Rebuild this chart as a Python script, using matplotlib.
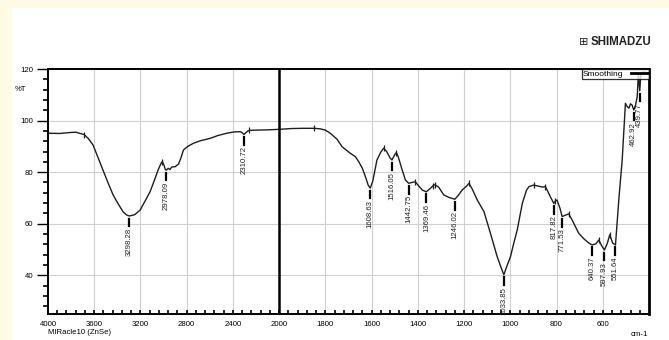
import numpy as np
import matplotlib
matplotlib.use("Agg")
import matplotlib.pyplot as plt
from matplotlib.lines import Line2D
from matplotlib.patches import Rectangle

plt.rcParams['font.family'] = ['Liberation Sans', 'DejaVu Sans']

# IR spectrum (wavenumber cm-1, %T)
wavenumber = [4000, 3900, 3850, 3800, 3760, 3720, 3688, 3650, 3610, 3570,
              3524, 3480, 3437, 3390, 3350, 3320, 3296, 3250, 3203, 3160,
              3117, 3080, 3047, 3020, 3010, 2995, 2985, 2975, 2960, 2945,
              2930, 2900, 2870, 2850, 2828, 2790, 2742, 2680, 2597, 2530,
              2453, 2390, 2337, 2320, 2305, 2290, 2270, 2257, 2200, 2100,
              2000, 1950, 1900, 1849, 1822, 1800, 1779, 1750, 1728, 1692,
              1670, 1656, 1640, 1627, 1615, 1606, 1595, 1577, 1560, 1548,
              1535, 1520, 1512, 1500, 1493, 1485, 1470, 1454, 1440, 1425,
              1411, 1395, 1380, 1363, 1345, 1330, 1324, 1310, 1288, 1265,
              1240, 1225, 1208, 1190, 1179, 1165, 1143, 1114, 1086, 1057,
              1040, 1028, 1015, 999, 985, 970, 948, 930, 919, 899,
              880, 860, 848, 835, 827, 812, 805, 798, 785, 776,
              765, 747, 730, 704, 680, 660, 646, 630, 617, 605,
              593, 580, 570, 557, 545, 530, 516, 502, 495, 487,
              480, 473, 466, 458, 451, 446, 440, 435, 425, 400]
transmittance = [95.1, 95.0, 95.2, 95.4, 95.5, 95.0, 94.6, 93.0, 90.5, 86.0,
                 80.9, 75.8, 71.2, 67.5, 64.6, 63.4, 63.0, 63.5, 65.3, 68.8,
                 72.4, 76.8, 80.9, 83.6, 84.1, 82.5, 81.0, 80.8, 81.5, 81.0,
                 82.0, 82.1, 83.2, 85.5, 88.6, 90.0, 91.2, 92.2, 93.1, 94.2,
                 95.1, 95.6, 95.7, 95.3, 94.6, 95.2, 96.0, 96.2, 96.3, 96.4,
                 96.6, 96.9, 97.0, 97.0, 96.8, 96.3, 95.1, 92.8, 89.9, 87.3,
                 86.0, 84.1, 81.5, 78.3, 75.0, 73.8, 76.5, 84.7, 87.8, 89.3,
                 88.0, 85.5, 84.7, 86.8, 87.6, 86.0, 81.5, 77.0, 75.7, 76.0,
                 76.3, 74.5, 73.0, 72.4, 73.8, 75.1, 75.0, 74.2, 71.2, 70.2,
                 69.5, 71.0, 73.1, 74.5, 75.7, 73.5, 69.2, 64.7, 56.3, 47.3,
                 43.0, 40.2, 43.5, 47.3, 52.5, 57.6, 67.9, 73.0, 74.4, 75.0,
                 74.6, 74.2, 74.4, 72.0, 70.5, 67.9, 68.8, 69.2, 66.0, 62.8,
                 63.2, 63.8, 61.0, 56.3, 54.0, 52.5, 51.8, 52.2, 53.7, 51.5,
                 49.8, 52.5, 55.7, 52.5, 51.8, 70.0, 84.7, 106.7, 105.5, 104.8,
                 106.5, 106.0, 104.1, 106.0, 109.3, 118.0, 111.5, 118.5, 118.8, 118.5]

# labelled minima
peak_labels = ['3298.28', '2978.09', '2310.72', '1608.63', '1516.05', '1442.75',
               '1369.46', '1246.02', '1033.85', '817.82', '771.53', '640.37',
               '597.93', '551.64', '462.92', '439.77']
peak_wn = [3296, 2975, 2305, 1606, 1512, 1440, 1363, 1240, 1028, 812,
           776, 646, 593, 545, 466, 440]

# small marks on the curve at local maxima
mark_wn = [3688, 3010, 2257, 1849, 1548, 1493, 1411, 1335, 1324, 1179,
           899, 848, 805, 747, 617, 570]

x_major = [4000, 3600, 3200, 2800, 2400, 2000, 1800, 1600, 1400, 1200, 1000, 800, 600]
y_major = [40, 60, 80, 100, 120]


def fwd(x):
    x = np.asarray(x, dtype=float)
    return np.where(x > 2000, 2000 + (x - 2000) / 2.0, x)


def inv(u):
    u = np.asarray(u, dtype=float)
    return np.where(u > 2000, 2000 + (u - 2000) * 2.0, u)


fig = plt.figure(figsize=(6.69, 3.40), dpi=100, facecolor='#fffae3')
fig.patches.append(Rectangle((12 / 669, 0), 1, 1 - 8 / 340, transform=fig.transFigure,
                             facecolor='white', edgecolor='none', zorder=-1))
ax = fig.add_axes([48 / 669, 1 - 314 / 340, 601 / 669, 245 / 340])

ax.set_xscale('function', functions=(fwd, inv))
ax.set_xlim(4000, 400)
ax.set_ylim(25, 120)

ax.plot(wavenumber, transmittance, color='#1e1e1e', lw=1.0, zorder=3)

wn_asc = wavenumber[::-1]
t_asc = transmittance[::-1]
ax.plot(mark_wn, np.interp(mark_wn, wn_asc, t_asc), ls='none', marker='|',
        ms=4, mew=0.9, color='#1e1e1e', zorder=4)

for lab, w in zip(peak_labels, peak_wn):
    t = np.interp(w, wn_asc, t_asc)
    ax.plot([w, w], [t - 1.0, t - 4.0], color='black', lw=1.6, zorder=4)
    ax.text(w, t - 4.6, lab, rotation=90, ha='center', va='top', fontsize=5.6,
            color='#222222', zorder=4)

ax.axvline(2000, color='black', lw=1.8, zorder=5)

# ticks and grid
ax.set_xticks(x_major)
ax.set_xticklabels([str(v) for v in x_major])
ax.set_xticks(list(np.arange(4000, 2000, -80)) + list(np.arange(2000, 400, -40)), minor=True)
ax.set_yticks(y_major)
ax.set_yticklabels([str(v) for v in y_major])
ax.set_yticks(np.arange(28, 120, 4), minor=True)
ax.grid(True, which='major', color='#d0d0d0', lw=0.8)
ax.set_axisbelow(True)
ax.tick_params(axis='x', which='both', direction='in', length=3, width=1.2, labelsize=5.6, pad=5)
ax.tick_params(axis='y', which='major', direction='out', length=8, width=1.0, labelsize=5.6, pad=2.5)
ax.tick_params(axis='y', which='minor', direction='out', length=3.5, width=1.2)
for s in ax.spines.values():
    s.set_color('black')
ax.spines['left'].set_linewidth(1.4)
ax.spines['bottom'].set_linewidth(1.4)
ax.spines['top'].set_linewidth(1.4)
ax.spines['right'].set_linewidth(2.0)

ax.text(-0.045, 112, '%T', transform=ax.get_yaxis_transform(), ha='center', va='center',
        fontsize=5.6)

handle = Line2D([], [], color='black', lw=2)
leg = ax.legend([handle], ['Smoothing'], loc='upper right', fontsize=6,
                borderaxespad=0, frameon=True, fancybox=False, handlelength=2.0,
                borderpad=0.15, handletextpad=0.9, markerfirst=False)
leg.get_frame().set_edgecolor('black')
leg.get_frame().set_linewidth(0.9)
leg.set_zorder(6)

fig.text(48 / 669, 1 - 333 / 340, 'MIRacle10 (ZnSe)', fontsize=5.6, ha='left', va='center')
fig.text(648 / 669, 1 - 334 / 340, 'cm-1', fontsize=5.6, ha='right', va='center')
fig.text(591 / 669, 1 - 42 / 340, 'SHIMADZU', fontsize=8.3, fontweight='bold',
         ha='left', va='center', color='#222222')
fig.text(584 / 669, 1 - 42 / 340, '\u229e', family='DejaVu Sans', fontsize=8,
         ha='center', va='center', color='#222222')

fig.savefig('out.png', dpi=100, facecolor=fig.get_facecolor())
